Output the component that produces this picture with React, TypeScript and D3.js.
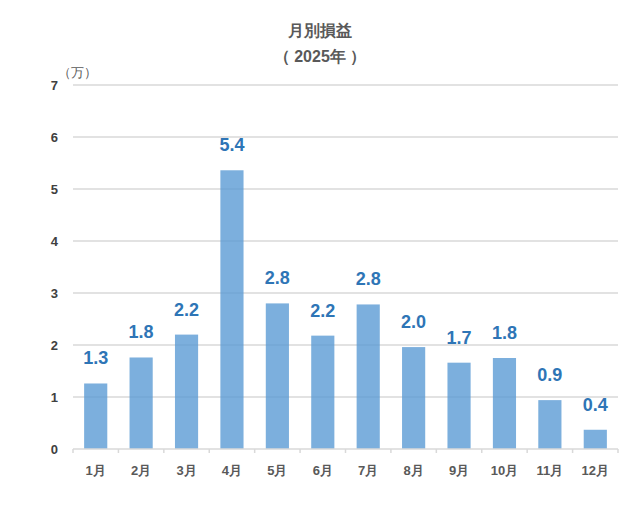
import React from 'react';
import * as d3 from 'd3';

// 月別損益 (2025年)
const months = ['1月', '2月', '3月', '4月', '5月', '6月', '7月', '8月', '9月', '10月', '11月', '12月'];
const profit = [1.26, 1.76, 2.2, 5.36, 2.8, 2.18, 2.78, 1.96, 1.66, 1.75, 0.94, 0.37];
const yTicks = [0, 1, 2, 3, 4, 5, 6, 7];

const W = 640;
const H = 509;
const margin = { top: 85, right: 22, bottom: 60, left: 73 };

const App = () => {
  const innerW = W - margin.left - margin.right;
  const innerH = H - margin.top - margin.bottom;

  const x = d3.scaleBand<string>()
    .domain(months)
    .range([0, innerW])
    .paddingInner(0.49)
    .paddingOuter(0.245);

  const y = d3.scaleLinear()
    .domain([0, 7])
    .range([innerH, 0]);

  const font = '"Liberation Sans", Arial, sans-serif';
  const bandStep = innerW / months.length;

  return (
    <svg width={W} height={H} style={{ position: 'absolute', left: 0, top: 0 }} fontFamily={font}>
      <rect width={W} height={H} fill="#fff" />
      <text x={320} y={36} textAnchor="middle" fontSize={16} fontWeight="bold" fill="#595959">月別損益</text>
      <text x={320} y={62} textAnchor="middle" fontSize={16} fontWeight="bold" fill="#595959" style={{ whiteSpace: 'pre' }}>（ 2025年 ）</text>

      <g transform={`translate(${margin.left},${margin.top})`}>
        {yTicks.map(t => (
          <g key={t}>
            {t > 0 && (
              <line x1={0} x2={innerW} y1={y(t)} y2={y(t)} stroke="#d9d9d9" strokeWidth={1.5} />
            )}
            <text x={-15} y={y(t)} dy="0.35em" textAnchor="end" fontSize={13} fontWeight="bold" fill="#404040">{t}</text>
          </g>
        ))}
        <text x={-15} y={-8} fontSize={13} fill="#595959">（万）</text>

        {months.map((m, i) => (
          <rect
            key={m}
            x={x(m)}
            y={y(profit[i])}
            width={x.bandwidth()}
            height={innerH - y(profit[i])}
            fill="#5b9bd5"
            fillOpacity={0.8}
          />
        ))}

        {months.map((m, i) => (
          <text
            key={m}
            x={(x(m) || 0) + x.bandwidth() / 2}
            y={y(profit[i]) - 19}
            textAnchor="middle"
            fontSize={18}
            fontWeight="bold"
            fill="#2e75b6"
          >
            {profit[i].toFixed(1)}
          </text>
        ))}

        <line x1={0} x2={innerW} y1={innerH} y2={innerH} stroke="#d9d9d9" strokeWidth={1.5} />
        {d3.range(months.length + 1).map(i => (
          <line key={i} x1={i * bandStep} x2={i * bandStep} y1={innerH} y2={innerH + 4} stroke="#d9d9d9" strokeWidth={1.5} />
        ))}

        {months.map(m => (
          <text
            key={m}
            x={(x(m) || 0) + x.bandwidth() / 2}
            y={innerH + 26}
            textAnchor="middle"
            fontSize={13}
            fontWeight="bold"
            fill="#595959"
          >
            {m}
          </text>
        ))}
      </g>
    </svg>
  );
};

export default App;
